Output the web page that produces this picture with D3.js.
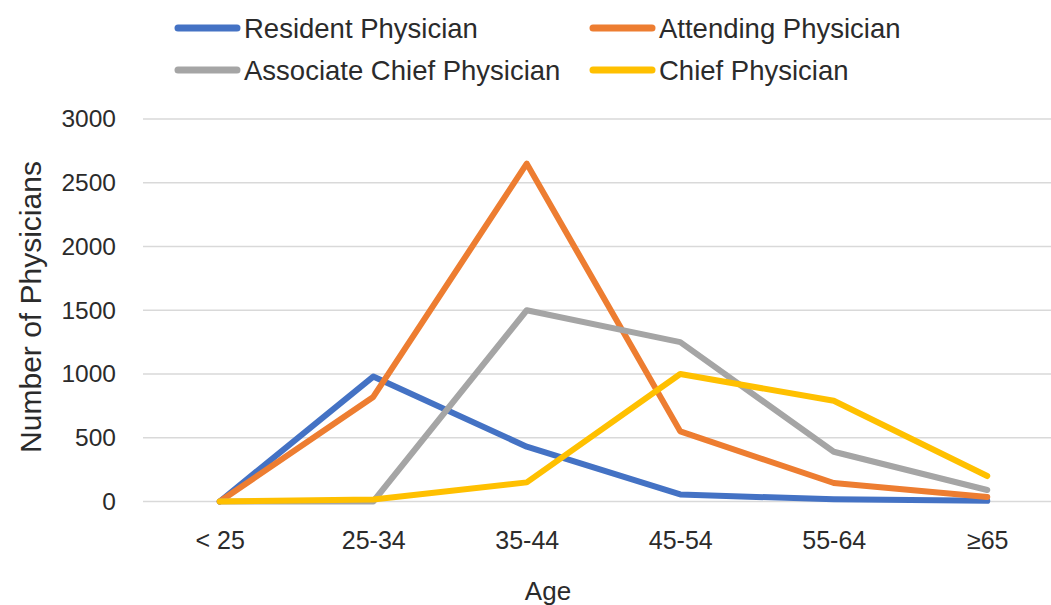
<!DOCTYPE html>
<html>
<head>
<meta charset="utf-8">
<script src="https://cdn.jsdelivr.net/npm/d3@7"></script>
<style>
  html, body { margin: 0; padding: 0; background: #fff; }
  svg { display: block; }
</style>
</head>
<body>
<svg id="chart" width="1051" height="605"></svg>
<script>
// Age groups on the x axis
const ageGroups = ["< 25", "25-34", "35-44", "45-54", "55-64", "\u226565"];

// Physician counts per age group, one array per title
const residentPhysician        = [0, 980, 430, 55, 17, 5];
const attendingPhysician       = [0, 820, 2650, 550, 145, 35];
const associateChiefPhysician  = [0, 0, 1500, 1250, 390, 90];
const chiefPhysician           = [0, 15, 150, 1000, 790, 200];

const seriesNames  = ["Resident Physician", "Attending Physician", "Associate Chief Physician", "Chief Physician"];
const seriesValues = [residentPhysician, attendingPhysician, associateChiefPhysician, chiefPhysician];
const seriesColors = ["#4472C4", "#ED7D31", "#A5A5A5", "#FFC000"];

const yTicks = [0, 500, 1000, 1500, 2000, 2500, 3000];

const svg = d3.select("#chart");
const textColor = "#2b2b2b";
const fontFamily = "'Liberation Sans', Arial, sans-serif";

const plot = { left: 143, right: 1064, top: 119, bottom: 501.5 };

const x = d3.scalePoint()
  .domain(ageGroups)
  .range([plot.left, plot.right])
  .padding(0.5);

const y = d3.scaleLinear()
  .domain([0, 3000])
  .range([plot.bottom, plot.top]);

// Horizontal gridlines
svg.append("g")
  .selectAll("line")
  .data(yTicks)
  .join("line")
  .attr("x1", plot.left)
  .attr("x2", plot.right)
  .attr("y1", d => y(d))
  .attr("y2", d => y(d))
  .attr("stroke", "#d9d9d9")
  .attr("stroke-width", 1.6);

// Y axis labels
const yAxis = svg.append("g")
  .attr("transform", `translate(${plot.left - 27},0)`)
  .call(d3.axisLeft(y).tickValues(yTicks).tickFormat(d3.format("d")).tickSize(0).tickPadding(0));
yAxis.select(".domain").remove();
yAxis.selectAll("text")
  .attr("font-family", fontFamily)
  .attr("font-size", 24.5)
  .attr("fill", textColor);

// X axis labels
const xAxis = svg.append("g")
  .attr("transform", `translate(0,${plot.bottom})`)
  .call(d3.axisBottom(x).tickSize(0).tickPadding(0));
xAxis.select(".domain").remove();
xAxis.selectAll("text")
  .attr("dy", null)
  .attr("y", 47)
  .attr("font-family", fontFamily)
  .attr("font-size", 25)
  .attr("fill", textColor);

// Axis titles
svg.append("text")
  .attr("x", 548)
  .attr("y", 600)
  .attr("text-anchor", "middle")
  .attr("font-family", fontFamily)
  .attr("font-size", 26)
  .attr("fill", textColor)
  .text("Age");

svg.append("text")
  .attr("transform", "translate(41,307) rotate(-90)")
  .attr("text-anchor", "middle")
  .attr("font-family", fontFamily)
  .attr("font-size", 30)
  .attr("fill", textColor)
  .text("Number of Physicians");

// Series lines
const line = d3.line()
  .x((d, i) => x(ageGroups[i]))
  .y(d => y(d));

svg.append("g")
  .selectAll("path")
  .data(seriesValues)
  .join("path")
  .attr("d", d => line(d))
  .attr("fill", "none")
  .attr("stroke", (d, i) => seriesColors[i])
  .attr("stroke-width", 6)
  .attr("stroke-linejoin", "round")
  .attr("stroke-linecap", "round");

// Legend, two rows of two entries
const legendPos = [
  { x: 175, y: 28 }, { x: 590, y: 28 },
  { x: 175, y: 70 }, { x: 590, y: 70 }
];
const legend = svg.append("g")
  .selectAll("g")
  .data(seriesNames)
  .join("g")
  .attr("transform", (d, i) => `translate(${legendPos[i].x},${legendPos[i].y})`);
legend.append("line")
  .attr("x1", 3).attr("x2", 62)
  .attr("y1", 0).attr("y2", 0)
  .attr("stroke", (d, i) => seriesColors[i])
  .attr("stroke-width", 7)
  .attr("stroke-linecap", "round");
legend.append("text")
  .attr("x", 69)
  .attr("y", 0)
  .attr("dy", "0.36em")
  .attr("font-family", fontFamily)
  .attr("font-size", 27.5)
  .attr("fill", textColor)
  .text(d => d);
</script>
</body>
</html>
